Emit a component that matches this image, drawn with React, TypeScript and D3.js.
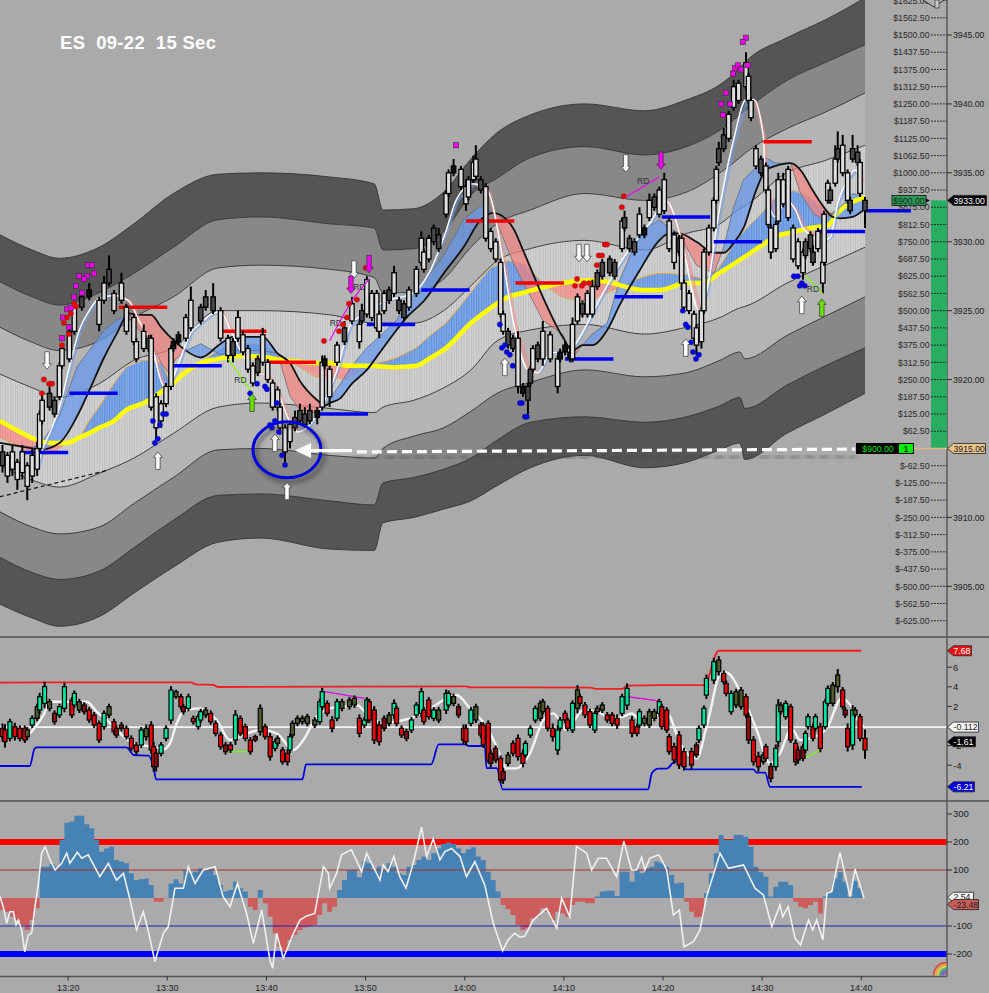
import * as d3 from "d3";

// ---- price candles (bar number = one 15 sec bar) ----
const barIndex = [1,3,5,7,9,11,13,15,16,17,20,22,24,25,28,30,33,36,40,42,44,46,49,51,54,55,58,60,61,63,65,67,69,70,72,75,77,81,83,86,89,92,94,96,98,100,102,104,106,108,110,112,113,115,117,119,121,123,125,128,130,131,133,136,139,142,145,146,148,150,152,153,155,157,159,161,163,165,168,170,171,173,175,177,180,181,183,186,188,189,191,192,194,196,198,200,202,203,205,207,209,211,213,214,215,217,219,222,225,226,228,230,231,233,235,237,239,241,243,246,248,251,252,254,256,258,260,262,264,266,268,270,272,274,275,276,278,280,281,283,284,286,288,289,290,292,294,296,298,301,302,303,305,307,309,310,311,313,314,316,318,320,322,324,325,327,328,330,332,332.5,334,335,337,338,340,342,343,344,346,347,349];
const bodyHigh = [3914.75,3914.5,3914.75,3914,3914.75,3913.75,3914.5,3915,3917.5,3918.5,3919,3918.5,3921,3922.25,3923.5,3925.25,3926,3926.5,3925.75,3927,3928,3926.25,3927,3925.25,3924.5,3922.75,3923.5,3923,3923,3918.75,3918.25,3919.5,3922.25,3922.75,3923.25,3924.5,3925.75,3925.25,3926,3926,3925,3923,3922.75,3924.5,3923.25,3922.25,3921,3921.5,3923.25,3921.25,3919.75,3919.25,3918,3916.5,3916.75,3917.25,3917.75,3917.5,3917.75,3917.75,3921.25,3921.5,3920.75,3922.5,3923.75,3925.5,3924,3925,3927.25,3926.25,3926.25,3924.75,3926.25,3926.5,3927.75,3925.75,3925.5,3926.5,3928,3930.25,3929.25,3930.25,3931,3930.5,3933.5,3935,3935.5,3935.25,3934,3934.5,3935.75,3936,3934.5,3934,3930.75,3930,3928.5,3924.75,3923.5,3923,3923,3919.5,3919.5,3920.75,3922.25,3922.5,3923.5,3923.25,3921.5,3922,3922.5,3922,3924,3926,3925.5,3926.25,3926.75,3927.75,3928.5,3928.75,3928.5,3931.5,3931.75,3930.25,3930,3932,3931,3933,3933.25,3933.75,3934.5,3931.5,3930.5,3930.25,3930.25,3927,3926.25,3924.75,3923.75,3925,3929.25,3931,3933,3935.25,3936.75,3937.75,3939.25,3941.25,3941.5,3943,3942,3940.25,3936.75,3936,3935.5,3933.75,3931,3931.25,3934.5,3934.5,3935.25,3931,3930,3929.25,3930,3930.5,3929.25,3930.75,3928.5,3932,3934.25,3933.75,3936,3936.75,3937,3935,3933,3936.75,3936.5,3935.75,3933];
const bodyLow = [3913.75,3913,3913.5,3912.75,3913.25,3912.25,3913,3913.5,3915,3917,3918,3917.5,3918.75,3921,3921.5,3923.5,3925.25,3926,3924,3925.75,3927,3925,3925.75,3923.5,3922.75,3921.5,3922.25,3922.25,3918,3916.5,3917,3918.25,3919.5,3922.25,3922.75,3923,3923.75,3924.25,3925.25,3925,3923,3921.75,3921.75,3923,3922,3920.75,3919.75,3920.5,3921.25,3920,3918,3918,3916.5,3914.75,3915.5,3916.5,3917,3916.75,3917,3917.25,3918,3921,3918.75,3921.25,3922.75,3924.25,3922.75,3924.25,3924.75,3924.5,3923.75,3923.5,3925,3925.75,3926.25,3925,3924.5,3925.25,3926.25,3928.5,3928,3928.75,3930,3929.5,3932,3933.5,3935,3934,3932.75,3933.25,3934.5,3934.75,3933.75,3930.25,3929.5,3928.75,3924.75,3923.5,3922.5,3922.25,3919.5,3919,3918.5,3919.75,3920.75,3921.5,3921.5,3921.5,3919.5,3921.5,3922,3921.5,3921.5,3924.25,3924.75,3924.75,3924.75,3926.75,3927.5,3927.75,3927.5,3929.5,3931,3929.5,3929.25,3930.5,3930.5,3931.75,3932.5,3932,3932.25,3929.5,3928.5,3929.25,3927,3925.25,3925,3923,3922.5,3922.75,3925,3929.25,3931,3933,3935.75,3936.75,3937.5,3939.75,3940.25,3941.25,3940.25,3939,3935.5,3935,3933.75,3931.25,3929.25,3929.5,3931.5,3932.75,3931.75,3928.75,3928.25,3927.75,3929,3929.5,3928.5,3929.5,3927,3928.5,3933,3933,3934.25,3936,3935,3933,3932.25,3936,3935.75,3933.5,3932.25];
const wickUp = [.5,.25,.5,.25,.5,.25,.5,.5,.25,.5,.5,.25,.25,.25,.5,.25,.5,.5,.25,.5,1,.25,.75,.25,.25,.25,.5,.25,.25,.25,.25,.25,.25,.25,.25,.25,1,.25,.5,1,.25,.25,.25,.5,.25,.25,.25,.25,.5,.25,.25,.25,.25,.25,.25,.5,.5,.5,.5,.25,.5,.25,.25,.25,.5,.5,.25,.5,.25,.25,.25,.25,.25,.25,.5,.25,.25,.25,.25,.5,.25,.25,.25,.5,.25,.25,.5,.25,.5,.25,.5,1,.25,.25,.25,.25,.25,.25,.25,.25,.5,.25,.25,.25,.25,.25,.75,.25,.25,.25,.25,.5,.5,.25,.25,.25,.5,.25,.25,.25,.25,.25,.5,.25,.25,.5,.25,.5,.25,.25,.5,.25,.25,.25,.25,.25,.25,.25,.25,.25,.25,.25,.25,.25,.5,.5,.25,.5,.25,.75,.25,.25,.25,.25,.25,.25,.25,.25,.5,.5,.25,.25,.25,.25,.25,.25,.5,.25,.5,.25,.25,.25,1,1.25,.75,.25,.25,1,.5,.25,.25];
const wickDown = [.5,.5,.5,.75,.5,1,.5,.5,.25,.25,.25,.25,.25,.25,.25,.25,.25,.25,.5,.25,.25,.25,.25,.25,.25,.25,.25,.25,.25,1,.5,.25,.25,.25,.25,.25,.25,.25,.25,.25,.25,.5,.5,.25,.25,.25,.25,.25,.25,.25,.25,.25,.5,1,.5,.25,.25,.25,.25,.5,.25,.25,.75,.25,.25,.25,.5,.25,.25,.25,.25,.5,.25,.25,.25,.25,.25,.25,.25,.25,.25,.25,.25,.25,.25,.25,.25,.25,.5,.25,.25,.25,.25,.25,.25,.25,.25,.25,.25,.25,.5,.25,1,.25,.25,.25,.5,.25,.5,.25,.25,.25,.25,.25,.25,.25,.25,.25,.25,.25,.25,.25,.25,.25,.25,.25,.25,.25,.25,.25,.25,.25,.5,.25,.5,.25,.25,.25,.75,.5,.25,.25,.25,.25,.25,.25,.25,.25,.25,.25,.25,.25,.25,.25,.25,.25,.5,.25,.25,.25,.25,.25,.25,.5,.25,.25,.25,.25,.75,.25,.25,.25,.25,.25,.25,.25,.25,.25,.25,.25,1.25];

// ---- envelope bands, outer to inner ----
const bandBars = [0,13,24,40,54,70,88,105,133,151,154.5,167,179,190,200.5,214,236,260,277,290.5,298.5,300.5,317.5,333,349];
const bandTop1 = [3930.5,3929.4,3928.8,3929.6,3931.3,3933.5,3934.9,3935,3934.7,3934.2,3932.3,3932.4,3933.6,3936,3937.9,3939.2,3940,3939.5,3940.3,3941.4,3942.6,3943,3944.8,3946.1,3947.7];
const bandTop2 = [3927.1,3926,3925.4,3926.3,3927.7,3929.6,3931.6,3931.8,3931.3,3931,3929.4,3929.5,3930.7,3933.4,3934.6,3936.1,3936.9,3936.3,3936.9,3938.1,3939.2,3939.5,3941.7,3943,3944.3];
const bandTop3 = [3923.8,3922.7,3922.1,3922.8,3924.5,3926,3928.1,3928.3,3928,3927.4,3926.3,3926.3,3927.3,3929.6,3931.3,3932.3,3933.5,3933,3933.6,3935,3936.1,3936.4,3938.2,3939.4,3940.8];
const bandTop4 = [3920.4,3919.4,3918.7,3919.7,3921.4,3922.3,3925,3925,3924.7,3924.1,3924.1,3924.1,3925,3926.8,3928.6,3929.5,3930.1,3929.4,3930.6,3931.3,3932.4,3932.6,3935,3935.9,3937];
const bandLow1 = [3913.8,3912.7,3912.2,3913.2,3914.3,3916.1,3918,3918.3,3917.9,3917.6,3918,3918.5,3919.4,3920.7,3922.8,3923.6,3924,3923.3,3923.8,3924.5,3925.2,3925.3,3927,3928.3,3929.6];
const bandLow2 = [3910.4,3909.3,3908.8,3909.3,3911,3912.9,3914.9,3915,3914.5,3914.3,3915,3915.9,3916.5,3917.7,3919,3919.8,3920.7,3920.2,3920.5,3921.4,3922,3921.5,3923.2,3924.6,3926];
const bandLow3 = [3907.1,3906,3905.5,3906.1,3907.8,3909.8,3911.6,3911.7,3911.2,3910.9,3912.5,3912.9,3913.5,3914.3,3915.6,3916.9,3917.3,3916.9,3917.3,3918.1,3918.7,3917.9,3919.6,3921,3922.3];
const bandLow4 = [3903.7,3902.7,3902.1,3902.8,3904.5,3906.4,3908.2,3908.5,3907.7,3907.6,3909.6,3910,3910.6,3911.2,3912.3,3913.6,3914.5,3913.6,3914,3914.9,3915.4,3914.2,3916.1,3917.5,3919];

// ---- yellow average and its thin companion ----
const avgBars = [0,8,15,21,27,32,36,40,46,51,58,65,69,74,81,88,94,102,108,114,121,128,133,140,146,149,159,168,173,180,190,198,205,211,219,227,237,245,251,259,266,277,284,290,297,307,313,320,327,334,338,344,349];
const yellowAvg = [3917,3916.2,3915.6,3915.4,3915.4,3915.8,3916.1,3916.5,3917,3917.8,3918.3,3919.1,3919.6,3920.4,3921.2,3921.5,3921.7,3921.7,3921.6,3921.4,3921.3,3921.2,3921.2,3921,3921,3921,3920.9,3921,3921.5,3922.3,3924.1,3925.2,3926,3926.3,3926.7,3927,3927.2,3927.1,3926.8,3926.5,3926.5,3927,3927,3927.7,3928.5,3929.7,3930.4,3930.7,3931,3931.2,3932.1,3932.9,3933.2];
const orangeAvg = [3915.8,3915.1,3914.5,3914.7,3915.4,3915.8,3917,3918,3919.7,3920.9,3921.4,3921.2,3919.7,3920.4,3921.2,3922.1,3922.6,3922.6,3922.3,3921.6,3920.9,3920.2,3920.2,3920,3920.7,3921,3921.5,3922.3,3923.1,3924.1,3926.3,3928.1,3928.6,3928.4,3927,3926,3925.7,3926.3,3926.8,3927.4,3927.7,3927.6,3927.3,3928.1,3930.1,3932,3933.2,3933.7,3933.2,3932.1,3932.1,3932.9,3933.2];

// ---- black average and the edge of its ribbon ----
const slowBars = [0,13,16,24,31,36,42,47,52,56,61,65,68,71,75,81,89,94,106,112,117,121,128,131,133,137,142,148,153,160,164,171,179,187,194,199,207,211,219,227,231,235,239,245,250,258,266,270,274,281,288,292,296,300,305,309,313,319,323,328,332,336,339,344,349];
const blackAvg = [3915.4,3915,3914.9,3915.4,3917.3,3919.2,3921.6,3923.3,3924.8,3924.7,3924.7,3923.8,3923.2,3922.7,3922.1,3921.6,3922.6,3923.1,3923.1,3921.9,3921.2,3919.9,3918.5,3918.1,3918.3,3918.6,3919.7,3920.7,3921.9,3923.6,3924.5,3925.7,3927.7,3929.6,3931.6,3932.1,3931,3929.4,3926,3923.1,3922.1,3922.5,3922.5,3923.6,3925.4,3927.9,3930.1,3930.6,3930.6,3930,3929.2,3929.2,3929.9,3931,3933.7,3935.2,3935.5,3935.7,3935.2,3933.7,3932.6,3931.8,3931.7,3931.8,3932.4];
const ribbonEdge = [3915.4,3915.1,3915.2,3917.4,3920.9,3922.1,3923.6,3924.3,3924.8,3923.6,3922.8,3921.2,3920.5,3921.5,3922.1,3922.6,3921.8,3922.1,3922.1,3921.9,3918.8,3917.8,3917.6,3918.1,3918.6,3919.6,3921,3922.3,3923.1,3924.3,3925.5,3927,3929,3931.6,3932.6,3932.1,3928.5,3927.1,3924.3,3923.3,3921.6,3922.5,3923.3,3924.1,3927.2,3930.6,3931.6,3931,3930.6,3928.3,3927.7,3929.6,3932.5,3934.5,3935.4,3936.1,3935.7,3935.7,3933.5,3932.1,3931.6,3932.1,3932.5,3933.5,3933.2];
const ribbonDownRanges = [[0, 13], [52, 75], [112, 131], [199, 235], [274, 292], [319, 336]];

// ---- thin white fast average ----
const fastBars = [15,17,20,24,28,32,36,40,46,52,56,61,65,67,70,74,77,81,86,89,93,97,102,108,112,116,120,125,129,136,141,146,156,167,173,180,184,191,197,203,207,213,217,222,230,233,241,250,262,269,275,282,285,290,296,301,304,308,309,313,317,321,324,332,335,338,342,345,348];
const fastAvg = [3913.6,3914.9,3916.1,3918,3920.9,3923.6,3925,3925.9,3926.1,3925.7,3924.3,3922.6,3919.9,3919.2,3920.2,3922.1,3923.4,3924.1,3924.8,3924.9,3923.6,3922.1,3920.7,3920.2,3919.2,3917.3,3916.2,3916.7,3917.8,3920.7,3923.8,3924.7,3925.7,3926.3,3927.7,3930.8,3933,3934.2,3933.6,3928.6,3924.3,3920.7,3920.5,3921.9,3922.1,3922.8,3925.5,3928.4,3931.3,3932.9,3930.1,3925,3926.3,3932.1,3937.4,3940.3,3940.3,3937.6,3933.7,3931.8,3933,3932.3,3931,3930.1,3930.3,3932.8,3934.5,3935.2,3934.3];

// ---- level bars ----
const blueLevelBars = [8,28,70,129,148,170,228,248,267,288,330,349];
const blueLevels = [3914.7,3919,3921,3917.5,3924,3926.5,3921.5,3926,3931.8,3930,3930.75,3932.25];
const redLevelBars = [48,88,108,188,208,308];
const redLevels = [3925.25,3923.5,3921.25,3931.5,3927,3937.25];

// ---- signal markers ----
const squareBars = [35.5,37.1,37.9,31.9,35.1,33.9,30.7,29.9,33.1,27,28.6,25.4,27.8,25,184,300.9,299.7,292.9,290.9,294.5,291.7,295.7,296.5,297.7,298.9,301.7];
const squarePrices = [3928.3,3928.3,3927.7,3927.5,3927.5,3927.3,3926.8,3926,3926.3,3925.1,3925.2,3924.5,3923.8,3923,3937,3944.8,3944.5,3940.8,3940,3940,3939.2,3942.2,3942.6,3942.8,3942.5,3942.8];
const redDotBars = [29.9,30.7,28.6,27,25.8,27.8,25,17.7,19.8,21,16.9,130.7,147.6,144,140.8,140,138.4,136.8,251.7,250.9,244,244.9,241.6,242.9,240.8,232.8,235.6,237.6,232,234.8];
const redDotPrices = [3925.5,3925.3,3924.8,3924.5,3924.1,3923.3,3922.5,3920,3919.7,3919.7,3919,3922.8,3928.1,3925.8,3925.5,3924.5,3924,3923.5,3933.3,3932.5,3929.8,3929.8,3929,3929,3928.3,3927.3,3927,3927,3926.8,3926.8];
const blueDotBars = [61.7,64.5,65.8,67,63.7,62.5,103.7,100.9,106.9,107.7,111.7,108.9,109.7,110.9,112.5,113.8,115,201.7,203.7,202.5,204.5,205.7,206.9,209.8,210.6,211.8,212.6,275.5,276.7,277.5,278.8,279.6,282,280.8,320.3,321.9,322.7,323.5,324.7];
const blueDotPrices = [3917,3916.7,3917.5,3917.5,3915.7,3915.4,3919.7,3919,3919.5,3919.3,3918.3,3916.7,3916.5,3917,3916.2,3914.5,3913.8,3924,3922.5,3922.3,3922,3921.8,3921,3918.3,3918.3,3917.3,3917.3,3925,3924,3923.8,3922.7,3922,3921.8,3921.5,3927.5,3927.5,3926.8,3927,3926.8];
const whiteUpBars = [63.7,110.9,115.8,203.7,276.7,323.5];
const whiteUpPrices = [3914.1,3915.4,3911.9,3920.9,3922.3,3925.4];
const whiteDownBars = [19,142.8,233.6,236.8,252.5];
const whiteDownPrices = [3921.4,3928,3929.2,3929.2,3935.7];
const magentaDownBars = [148.9,141.6,266.7];
const magentaDownPrices = [3928.4,3926.9,3935.9];
const greenUpBars = [101.7,331.6];
const greenUpPrices = [3918.3,3925.2];
const rdBars = [135.5, 145, 259.5, 97, 328];
const rdPrices = [3924.1, 3926.7, 3934.4, 3920, 3926.6];
const magentaTrend1Bars = [133, 138, 142, 149];
const magentaTrend1 = [3922.8, 3924.5, 3925.7, 3927.3];
const magentaTrend2Bars = [253, 266];
const magentaTrend2 = [3933.3, 3934.7];
const greenTrend1Bars = [92, 102];
const greenTrend1 = [3921.5, 3919];
const greenTrend2Bars = [325, 332];
const greenTrend2 = [3927.5, 3926.25];
const dashTrendBars = [0, 43];
const dashTrend = [3911.5, 3913.4];

// ---- momentum pane candles ----
const oscBars = [
  1,2,4,6,8,10,11,13,15,16,18,20,22,24,26,29,30,32,34,36,38,40,42,44,46,47,49,51,53,55,57,59,61,62,63,65,67,69,71,73,74,76,78,80,81,83,85,87,89,91,93,95,97,99,101,103,105,107,109,111,112,114,116,117,118,120,122,124,127,129,130,132,
  134,136,138,141,143,145,147,148,149,151,153,155,157,159,160,162,164,166,168,170,171,173,175,177,180,181,183,185,187,188,190,192,194,195,197,198,200,202,203,205,207,209,211,212,214,216,218,219,221,223,225,226,228,229,231,233,234,236,238,240,241,243,245,247,249,251,253,255,257,258,260,262,264,266,
  267,269,270,272,274,276,279,281,282,284,285,288,290,292,293,295,297,299,301,302,304,306,308,309,311,313,314,315,317,319,321,322,324,325,326,328,329,331,333,334,336,338,340,341,342,344,345,347,349,
];
const oscTop = [
  -.24,-.41,.44,-.07,-.24,-.24,-.41,.78,1.97,2.99,4.01,2.48,1.29,1.97,4.01,2.65,3.33,2.48,2.14,1.63,1.12,.27,1.29,1.97,.44,-.24,.1,-.24,-1.26,-1.94,-.41,-.24,.1,-2.11,-2.79,-1.94,-.24,3.67,3.5,2.99,1.97,2.99,.78,.95,1.46,1.63,1.29,.27,-.92,-1.94,-1.94,1.12,.78,-.07,-1.43,-1.09,1.8,-.07,-1.09,-1.6,-1.26,-2.45,-2.79,-1.09,.27,.78,.78,.95,.61,2.48,3.5,2.31,
  .61,2.48,2.48,2.65,2.82,.78,.61,2.65,2.48,1.63,.1,.78,1.12,2.31,1.8,-.24,-.58,.61,2.14,3.5,1.63,2.65,1.63,1.63,3.33,3.33,2.99,1.97,-.24,-.24,1.63,1.97,.1,.1,.27,-2.79,-2.28,-3.3,-4.66,-2.96,-1.77,-1.26,-2.79,-1.77,-.24,1.8,2.31,2.48,1.8,-.24,-.41,.61,1.29,.61,2.31,3.67,2.99,2.14,1.46,1.29,1.8,2.14,1.12,1.12,.78,2.99,3.84,.61,-.07,1.46,.78,1.46,1.46,2.48,
  1.97,1.63,-1.09,-2.11,-.92,-2.62,-2.62,-1.94,-.24,1.8,4.86,6.56,6.73,5.37,4.35,3.33,3.5,3.67,2.99,.95,-1.43,-3.13,-2.96,-2.11,-4.15,-2.28,2.14,2.14,2.31,1.97,-1.77,-2.45,-2.11,-.75,.95,-.07,.95,-.07,2.48,3.84,4.18,5.2,3.67,1.63,-.24,1.63,1.63,.95,-1.26,
];
const oscBottom = [
  -1.09,-1.6,-1.26,-1.09,-1.26,-1.43,-1.09,.1,.78,1.63,2.31,1.8,.44,1.12,1.8,1.12,2.14,1.63,1.46,.61,.1,-1.43,-.07,1.12,-.58,-.92,-.24,-1.09,-2.28,-2.62,-1.94,-1.09,-2.45,-4.15,-4.15,-2.79,-1.26,.61,2.99,1.97,1.46,1.8,.44,-.07,.61,1.12,.44,-.75,-2.11,-2.62,-2.45,-1.43,-.75,-1.26,-2.62,-1.43,-.58,-1.09,-3.13,-2.28,-1.77,-3.64,-3.64,-2.45,-.92,.27,.44,.27,.1,.44,1.97,1.29,
  -.24,.78,1.8,1.97,2.14,-.75,.1,.61,.61,-1.43,-1.6,-.24,.27,1.12,.27,-.92,-1.26,-.41,1.12,1.29,.44,.95,.78,.61,1.63,2.14,2.31,1.12,-1.43,-1.6,.27,.61,-.92,-1.94,-3.47,-3.81,-3.47,-5.51,-5.51,-3.81,-2.79,-3.13,-3.81,-2.96,-.92,.61,.78,1.46,-.24,-1.09,-2.45,-.24,.61,-.24,-.41,1.8,2.31,1.12,.1,-.41,1.46,1.63,.61,.27,.1,1.29,2.14,-.75,-.75,.1,.27,.1,.78,1.29,
  -.07,-.41,-2.62,-3.47,-3.98,-4.15,-3.98,-2.96,-1.43,.1,3.16,4.69,5.54,4.52,3.33,1.46,2.14,1.97,1.12,-1.43,-3.64,-4.15,-3.64,-3.3,-5.34,-4.15,-1.6,1.46,.95,-1.43,-3.64,-3.47,-3.3,-2.45,-.07,-1.26,-.24,-2.28,-.07,2.31,2.31,4.01,1.97,1.12,-2.11,-1.94,1.12,-1.26,-2.45,
];
const oscKinds =
  "rrgrrrogog" + "godggrgodr" + "rrgorddrrr" + "gorrdgggor" + "dgrggorrrd" + "rgrrrdorrg" + "orrgooooog" + "gr" +
  "rgooorggrr" + "rdogrrdggg" + "rrgoggodrr" + "gorrrddrdo" + "rrrgggoorr" + "ggrrgorrrg" + "oorrrggrrg" + "ooog" +
  "rrrrrrrdgg" + "ggorrgoord" + "rrordggogr" + "rddggrgrgg" + "oordrgorr";
const oscWick = [
  .5,.6,.3,.4,.3,.3,.3,.3,.3,.4,.5,.3,.3,.3,.4,.3,.3,.3,.3,.3,.3,.3,.3,.3,.3,.3,.3,.3,.3,.3,.3,.4,.4,.5,.5,.3,.3,.4,.2,.3,.3,.3,.3,.3,.3,.3,.3,.3,.3,.3,.3,.5,.3,.3,.3,.2,.4,.3,.4,.3,.3,.3,.4,.3,.3,.3,.3,.3,.3,.3,.4,.3,
  .4,.3,.3,.3,.3,.4,.3,.3,.3,.4,.4,.3,.3,.4,.3,.3,.3,.3,.3,.4,.3,.3,.3,.3,.4,.3,.3,.3,.4,.4,.3,.3,.3,.3,.3,.4,.3,.3,.4,.3,.3,.4,.4,.3,.3,.3,.3,.3,.3,.5,.5,.3,.3,.3,.3,.5,.3,.3,.3,.3,.3,.3,.3,.3,.4,.3,.5,.4,.3,.3,.3,.3,.3,.3,
  .3,.3,.3,.4,.4,.4,.4,.3,.3,.3,.4,.4,.4,.3,.3,.3,.3,.3,.3,.4,.4,.5,.3,.3,.4,.4,.6,.3,.3,.3,.4,.4,.3,.3,.3,.3,.3,.4,.3,.3,.3,.6,.3,.3,.5,.5,.3,.3,.9,
];
const oscKindColors: Record<string, string> = { g: "#00E5A0", r: "#F00000", o: "#4E5B2B", d: "#8B0A0A" };

const oscSlowBars = [0,8,12,14.8,17.5,20.2,27,35,39,43,53.8,56.5,61.9,65.9,68.6,71.3,74.6,80.7,87.4,92.8,96.8,104.9,111.6,118.4,122.4,127.8,133,138.5,143.9,147.9,154.6,162.7,165.4,173.5,184.2,189.6,196.3,200.4,204.4,208.4,213.8,219.2,223.2,228.6,235.3,240.7,247.4,251.5,254.8,259.5,266,267.6,270.3,274.4,281.1,285.1,291.2,293.9,299.9,305.3,310.7,314.7,319.4,322.8,328.8,333.6,339.6,343.6,347,348.6];
const oscSlow = [-.3,-1.1,-.75,.1,1.1,2.48,2.48,2.48,1.46,.61,-1.77,-1.94,-2.11,-2.38,-1.77,.27,1.63,1.8,.61,-1.43,-1.09,-.41,-.75,-2.45,-1.43,.95,1.8,1.97,2.14,1.29,.27,.61,.78,1.8,3.16,1.8,-.07,-2.11,-4.32,-4.32,-2.79,.61,1.29,-.41,1.63,1.46,.78,.95,1.29,.27,1.29,1.63,.95,-1.77,-3.3,-.07,5.54,5.37,2.82,-.41,-3.81,-2.79,-.24,-1.43,-1.09,-.24,2.82,1.97,.27,-.07];
const oscUpperBars = [0,17,77,79,86,88,188,190,238,241,251,253,266,284,290,347.5];
const oscUpper = [4.42,4.45,4.45,4.25,4.2,3.98,4.05,3.95,3.92,3.78,3.78,4.12,4.18,4.18,7.68,7.68];
const oscLowerBars = [0,12,14,15,51,54,60,62,63,122,123.5,174,177,188,189,195.6,196.3,200.4,202.8,261.5,263,265.6,269,272.3,274,277,304,305.3,308.7,310.7,347.7];
const oscLower = [-4.08,-4.08,-2.28,-2.18,-2.18,-2.96,-3.03,-4.3,-5.44,-5.44,-3.91,-3.91,-1.87,-1.87,-2.04,-2.04,-4.29,-4.29,-6.46,-6.46,-4.83,-4.35,-4.35,-3.64,-3.74,-4.42,-4.42,-4.76,-4.76,-6.21,-6.21];
const oscTrends = [
  { color: "#E000E0", bars: [131, 147], values: [3.5, 2.82] },
  { color: "#E000E0", bars: [253, 266], values: [2.99, 2.55] },
  { color: "#7CFC00", bars: [91.5, 100], values: [-2.62, -2.62] },
  { color: "#7CFC00", bars: [323.5, 331], values: [-3.4, -2.45] },
];

// ---- CCI pane, histogram holds one value per two bars ----
const cciHist = [-43,-49,-67,-79,-96,-114,-79,-37,112,112,121,112,207,269,273,294,294,263,249,207,165,177,183,136,130,124,88,64,67,70,46,-13,-13,-1,52,67,52,100,88,94,106,100,106,82,46,23,29,58,35,23,-31,-43,29,-19,-67,-126,-174,-192,-150,-132,-114,-105,-102,-96,-61,-19,
  -49,-31,29,64,100,100,74,130,124,100,112,100,124,112,88,82,112,118,136,148,136,160,177,193,198,193,177,160,174,181,148,136,94,64,23,-25,-40,-61,-96,-114,-108,-73,-67,-37,-49,-79,-49,-55,-67,-25,-13,-13,-19,-19,5,23,26,26,7,94,94,58,100,88,106,112,130,
  124,112,82,52,55,-13,-49,-69,-67,17,88,160,225,207,207,225,225,219,183,112,92,76,5,40,58,58,46,-13,-31,-37,-25,-13,-55,5,23,70,92,58,5,62,35,-19];
const cciBars = [0,1.3,2.7,4,5.4,6.5,7.4,8.7,10,11.4,12.8,14.1,15.5,16.8,18.2,20.2,22.2,24.9,26.9,28.2,31.2,33,35.6,40.3,43.7,47,49.8,52.5,55.1,57.8,59.9,62.5,65.9,67.9,70.6,74,76,78.7,82,86.8,90,92.8,95.8,99.5,102.2,105.6,108.9,110,111.6,114.3,118.4,121,123.7,127,130.5,132.5,133,135.8,137.8,141.8,145.9,147.9,150.6,153.3,154.6,156.6,158.9,161.3,163.8,166.7,170.1,172.1,174.8,177.5,179.5,182.2,185.6,188.2,191.6,195.6,199,202.8,205,207.7,209.8,211.8,215.1,220.5,224.6,226.6,229.9,232.6,236.7,238.7,241.4,244.7,248.8,251.7,254.8,256.8,258.9,260.2,262.2,265.6,266.3,269,271.7,274.1,276,279.8,282.4,285.1,290.5,293.9,300,304.6,308,311.4,314.7,315.8,318,320.8,323,326.2,327.9,329.5,332,333.6,335.6,338.9,343,345,348.6];
const cciLine = [5,-31,-90,-49,-49,-96,-79,-114,-192,-132,-126,-31,52,160,183,136,100,124,160,124,163,142,154,76,124,64,88,-7,-114,-49,-120,-227,-126,-102,35,35,112,52,100,112,5,-31,52,-55,-162,-43,-221,-251,-126,-215,-126,-79,-64,-55,112,88,35,88,154,172,94,160,112,64,118,94,148,76,35,124,253,148,211,136,166,177,148,76,130,46,-90,-189,-150,-126,-140,-136,-79,-37,-108,-1,-67,184,160,100,142,142,76,203,100,100,145,100,142,154,148,100,-61,-43,-174,-156,-114,5,160,106,118,35,11,-102,-25,-67,-31,-144,-168,-79,-114,-79,-150,17,23,163,5,104,-1];

// ---- axes ----
const dollarTicks = [1625,1562.5,1500,1437.5,1375,1312.5,1250,1187.5,1125,1062.5,1000,937.5,875,812.5,750,687.5,625,562.5,500,437.5,375,312.5,250,187.5,125,62.5,-62.5,-125,-187.5,-250,-312.5,-375,-437.5,-500,-562.5,-625];
const priceTicks = [3945, 3940, 3935, 3930, 3925, 3920, 3910, 3905];
const oscTicks = [6, 4, 2, -2, -4];
const cciTicks = [300, 200, 100, -100, -200];
const timeLabels = ["13:20","13:30","13:40","13:50","14:00","14:10","14:20","14:30","14:40"];
const timeBars = [27.5,67.5,107.5,147.5,187.5,227.5,267.5,307.5,347.5];

const plotRight = 865;
const axisX = 947;
const mainBottom = 637;
const oscBottomY = 801;
const cciBottom = 976.5;
const FONT = "'Liberation Sans', Arial, sans-serif";
const AXIS_SIZE = 8.7;

const xBar = d3.scaleLinear().domain([0, 349]).range([0, plotRight]);
const yPrice = d3.scaleLinear().domain([3905, 3945]).range([586.3, 35]);
const yOsc = d3.scaleLinear().domain([-4, 6]).range([765.2, 667.2]);
const yCci = d3.scaleLinear().domain([-200, 300]).range([954, 814]);

function bandPath(upper: number[], lower: number[]) {
  return d3.area<number>()
    .x((_, i) => xBar(bandBars[i]))
    .y0((_, i) => yPrice(lower[i]))
    .y1((_, i) => yPrice(upper[i]))
    .curve(d3.curveMonotoneX)(upper) as string;
}

function linePath(bars: number[], vals: number[], y: (v: number) => number, curve: d3.CurveFactory = d3.curveLinear) {
  return d3.line<number>().x((_, i) => xBar(bars[i])).y((v) => y(v)).curve(curve)(vals) as string;
}

function Tag({ y, w, fill, text, color = "#fff", stroke = "#222" }: { y: number; w: number; fill: string; text: string; color?: string; stroke?: string }) {
  const x0 = axisX + 0.5;
  const h = 5;
  return (
    <g>
      <path d={`M${x0},${y}L${x0 + 6},${y - h}L${x0 + w},${y - h}L${x0 + w},${y + h}L${x0 + 6},${y + h}Z`} fill={fill} stroke={stroke} strokeWidth={0.8} />
      <text x={x0 + 6} y={y + 3.2} fontSize={8.7} fill={color} fontFamily={FONT}>{text}</text>
    </g>
  );
}

function Arrow({ bar, price, dir, fill }: { bar: number; price: number; dir: "up" | "down"; fill: string }) {
  const cx = xBar(bar);
  const cy = yPrice(price);
  const s = dir === "up" ? 1 : -1;
  const d = `M0,${-9 * s}L${4.4},${-3.5 * s}L${2.2},${-3.5 * s}L${2.2},${8.5 * s}L${-2.2},${8.5 * s}L${-2.2},${-3.5 * s}L${-4.4},${-3.5 * s}Z`;
  return <path d={d} transform={`translate(${cx},${cy})`} fill={fill} stroke="#333" strokeWidth={0.7} />;
}

export default function App() {
  const ribbonIsDown = (bar: number) => ribbonDownRanges.some(([a, b]) => bar >= a && bar < b);
  const dollarToPrice = (d: number) => 3915 + d / 50;
  const histBar = (i: number) => i * 2;

  const histPos = d3.area<number>().x((_, i) => xBar(histBar(i))).y0(yCci(0)).y1((v) => yCci(Math.max(v, 0))).curve(d3.curveStepAfter)(cciHist) as string;
  const histNeg = d3.area<number>().x((_, i) => xBar(histBar(i))).y0(yCci(0)).y1((v) => yCci(Math.min(v, 0))).curve(d3.curveStepAfter)(cciHist) as string;

  return (
    <svg width={989} height={993} viewBox="0 0 989 993" style={{ position: "absolute", left: 0, top: 0, display: "block", background: "#AAAAAA" }}>
      <defs>
        <clipPath id="mainClip"><rect x={0} y={0} width={plotRight} height={mainBottom - 1} /></clipPath>
        <pattern id="hatchGrey" width={xBar(1)} height={4} patternUnits="userSpaceOnUse">
          <rect width={xBar(1)} height={4} fill="#D2D2D2" />
          <rect width={1} height={4} fill="#BEBEBE" />
        </pattern>
        <pattern id="hatchBlue" width={xBar(1)} height={4} patternUnits="userSpaceOnUse">
          <rect width={xBar(1)} height={4} fill="#7FA8E6" />
          <rect width={1} height={4} fill="#5F8FDC" />
        </pattern>
        <pattern id="hatchPink" width={xBar(1)} height={4} patternUnits="userSpaceOnUse">
          <rect width={xBar(1)} height={4} fill="#F0A0A0" />
          <rect width={1} height={4} fill="#E88C8C" />
        </pattern>
        <filter id="soft" x="-20%" y="-100%" width="140%" height="300%"><feGaussianBlur stdDeviation={2} /></filter>
      </defs>

      <g clipPath="url(#mainClip)">
        <path d={bandPath(bandTop1, bandTop2)} fill="#555555" />
        <path d={bandPath(bandTop2, bandTop3)} fill="#888888" />
        <path d={bandPath(bandTop3, bandTop4)} fill="#B4B4B4" />
        <path d={bandPath(bandTop4, bandLow1)} fill="url(#hatchGrey)" />
        <path d={bandPath(bandLow1, bandLow2)} fill="#B4B4B4" />
        <path d={bandPath(bandLow2, bandLow3)} fill="#888888" />
        <path d={bandPath(bandLow3, bandLow4)} fill="#555555" />
        {[bandTop1, bandTop2, bandTop3, bandTop4, bandLow1, bandLow2, bandLow3, bandLow4].map((vals, k) => (
          <path key={k} d={linePath(bandBars, vals, yPrice, d3.curveMonotoneX)} fill="none" stroke="#333" strokeWidth={0.9} />
        ))}

        {/* hatched fill between yellow and orange */}
        {yellowAvg.slice(0, -1).map((_, i) => {
          const up = orangeAvg[i] + orangeAvg[i + 1] >= yellowAvg[i] + yellowAvg[i + 1];
          const pts = [
            [xBar(avgBars[i]), yPrice(yellowAvg[i])],
            [xBar(avgBars[i + 1]), yPrice(yellowAvg[i + 1])],
            [xBar(avgBars[i + 1]), yPrice(orangeAvg[i + 1])],
            [xBar(avgBars[i]), yPrice(orangeAvg[i])],
          ];
          return <polygon key={i} points={pts.map((p) => p.join(",")).join(" ")} fill={up ? "url(#hatchBlue)" : "url(#hatchPink)"} />;
        })}
        <path d={linePath(avgBars, orangeAvg, yPrice, d3.curveMonotoneX)} fill="none" stroke="#E0A040" strokeWidth={0.9} />

        {/* ribbon between the black line and its edge */}
        <g opacity={0.72}>
          {blackAvg.slice(0, -1).map((_, i) => {
            const pts = [
              [xBar(slowBars[i]), yPrice(blackAvg[i])],
              [xBar(slowBars[i + 1]), yPrice(blackAvg[i + 1])],
              [xBar(slowBars[i + 1]), yPrice(ribbonEdge[i + 1])],
              [xBar(slowBars[i]), yPrice(ribbonEdge[i])],
            ];
            const c = ribbonIsDown(slowBars[i]) ? "#F28380" : "#6699EE";
            return <polygon key={i} points={pts.map((p) => p.join(",")).join(" ")} fill={c} stroke={c} strokeWidth={0.4} />;
          })}
        </g>
        <path d={linePath(slowBars, ribbonEdge, yPrice, d3.curveLinear)} fill="none" stroke="#666" strokeWidth={0.7} />

        <path d={linePath(avgBars, yellowAvg, yPrice, d3.curveMonotoneX)} fill="none" stroke="#FFFF00" strokeWidth={4.5} />
        <path d={linePath(slowBars, blackAvg, yPrice, d3.curveMonotoneX)} fill="none" stroke="#111" strokeWidth={1.8} />

        {/* coloured strip under the fast line */}
        {fastAvg.slice(0, -1).map((v, i) => (
          <line key={i} x1={xBar(fastBars[i]) + 1.5} y1={yPrice(v)} x2={xBar(fastBars[i + 1]) + 1.5} y2={yPrice(fastAvg[i + 1])}
            stroke={fastAvg[i + 1] >= v ? "#6F9BE8" : "#F08A88"} strokeWidth={3.2} strokeOpacity={0.55} />
        ))}
        <path d={linePath(fastBars, fastAvg, yPrice, d3.curveMonotoneX)} fill="none" stroke="#FFFFFF" strokeWidth={1.5} />

        {blueLevelBars.map((b, i) => (
          <line key={i} x1={xBar(b)} x2={xBar(b + 19.5)} y1={yPrice(blueLevels[i])} y2={yPrice(blueLevels[i])} stroke="#0000F0" strokeWidth={3.5} />
        ))}
        {redLevelBars.map((b, i) => (
          <line key={i} x1={xBar(b)} x2={xBar(b + 19.5)} y1={yPrice(redLevels[i])} y2={yPrice(redLevels[i])} stroke="#F00000" strokeWidth={3.5} />
        ))}
      </g>

      {/* extend last blue level past the clip */}
      <line x1={xBar(349)} x2={xBar(349) + 46} y1={yPrice(blueLevels[11])} y2={yPrice(blueLevels[11])} stroke="#0000F0" strokeWidth={3.5} />

      {/* price candles */}
      {barIndex.map((b, i) => {
        const x = xBar(b);
        const hi = bodyHigh[i];
        const lo = bodyLow[i];
        const size = hi - lo;
        const fill = size >= 1.25 ? "#DEDEDE" : size >= 0.75 ? "#4A4A4A" : "#111";
        return (
          <g key={i}>
            <line x1={x} x2={x} y1={yPrice(hi + wickUp[i])} y2={yPrice(lo - wickDown[i])} stroke="#000" strokeWidth={2} />
            <rect x={x - 2.2} y={yPrice(hi)} width={4.4} height={Math.max(yPrice(lo) - yPrice(hi), 1)} fill={fill} stroke="#000" strokeWidth={1.3} />
          </g>
        );
      })}

      {/* trend lines */}
      <path d={linePath(dashTrendBars, dashTrend, yPrice)} fill="none" stroke="#111" strokeWidth={1.2} strokeDasharray="4 3" />
      <path d={linePath(magentaTrend1Bars, magentaTrend1, yPrice, d3.curveMonotoneX)} fill="none" stroke="#F000F0" strokeWidth={1.2} />
      <path d={linePath(magentaTrend2Bars, magentaTrend2, yPrice)} fill="none" stroke="#F000F0" strokeWidth={1.2} />
      <path d={linePath(greenTrend1Bars, greenTrend1, yPrice)} fill="none" stroke="#7CFC00" strokeWidth={1.2} />
      <path d={linePath(greenTrend2Bars, greenTrend2, yPrice)} fill="none" stroke="#7CFC00" strokeWidth={1.2} />
      {rdBars.map((b, i) => (
        <text key={i} x={xBar(b)} y={yPrice(rdPrices[i]) + 3} fontSize={8.5} fill="#333" fontFamily={FONT} textAnchor="middle">RD</text>
      ))}

      {/* markers */}
      {squareBars.map((b, i) => (
        <rect key={i} x={xBar(b) - 2.6} y={yPrice(squarePrices[i]) - 2.6} width={5.2} height={5.2} fill="#F000F0" stroke="#333" strokeWidth={0.6} />
      ))}
      {redDotBars.map((b, i) => (
        <circle key={i} cx={xBar(b)} cy={yPrice(redDotPrices[i])} r={2.7} fill="#F00000" stroke="#444" strokeWidth={0.3} />
      ))}
      {blueDotBars.map((b, i) => (
        <circle key={i} cx={xBar(b)} cy={yPrice(blueDotPrices[i])} r={2.7} fill="#0000F0" stroke="#333" strokeWidth={0.3} />
      ))}
      {whiteUpBars.map((b, i) => <Arrow key={i} bar={b} price={whiteUpPrices[i]} dir="up" fill="#fff" />)}
      {whiteDownBars.map((b, i) => <Arrow key={i} bar={b} price={whiteDownPrices[i]} dir="down" fill="#fff" />)}
      {magentaDownBars.map((b, i) => <Arrow key={i} bar={b} price={magentaDownPrices[i]} dir="down" fill="#F000F0" />)}
      {greenUpBars.map((b, i) => <Arrow key={i} bar={b} price={greenUpPrices[i]} dir="up" fill="#66E000" />)}

      {/* circled entry and the long arrow pointing at it */}
      <ellipse cx={xBar(115.8) + 3} cy={yPrice(3914.9) + 4} rx={34} ry={28} fill="none" stroke="#333" strokeOpacity={0.55} strokeWidth={4} filter="url(#soft)" />
      <line x1={xBar(143)} x2={xBar(345)} y1={yPrice(3914.75) + 6} y2={yPrice(3914.75) + 5} stroke="#444" strokeOpacity={0.55} strokeWidth={3} strokeDasharray="10 5" filter="url(#soft)" />
      <ellipse cx={xBar(115.8)} cy={yPrice(3914.9)} rx={34} ry={28} fill="none" stroke="#0000E0" strokeWidth={3} />
      <line x1={xBar(125)} x2={xBar(142)} y1={yPrice(3914.85)} y2={yPrice(3914.85)} stroke="#fff" strokeWidth={3.2} />
      <line x1={xBar(144)} x2={xBar(345)} y1={yPrice(3914.75)} y2={yPrice(3914.95)} stroke="#fff" strokeWidth={3.2} strokeDasharray="10 5" />
      <path d={`M${xBar(119)},${yPrice(3914.85)}L${xBar(125.5)},${yPrice(3914.85) - 7.5}L${xBar(125.5)},${yPrice(3914.85) + 7.5}Z`} fill="#fff" />

      {/* momentum pane */}
      <path d={linePath(oscUpperBars, oscUpper, yOsc, d3.curveMonotoneX)} fill="none" stroke="#F02020" strokeWidth={1.8} />
      <path d={linePath(oscLowerBars, oscLower, yOsc, d3.curveMonotoneX)} fill="none" stroke="#0000E0" strokeWidth={1.8} />
      <line x1={0} x2={axisX} y1={yOsc(-0.112)} y2={yOsc(-0.112)} stroke="#F4F4F4" strokeWidth={1.8} />
      <path d={linePath(oscSlowBars, oscSlow, yOsc, d3.curveMonotoneX)} fill="none" stroke="#F4F4F4" strokeWidth={2.4} />
      {oscTrends.map((t, i) => (
        <path key={i} d={linePath(t.bars, t.values, yOsc)} fill="none" stroke={t.color} strokeWidth={1.3} />
      ))}
      {oscBars.map((b, i) => {
        const x = xBar(b);
        const w = oscWick[i] ?? 0.3;
        return (
          <g key={i}>
            <line x1={x} x2={x} y1={yOsc(oscTop[i] + w)} y2={yOsc(oscBottom[i] - w)} stroke="#000" strokeWidth={2} />
            <rect x={x - 2} y={yOsc(oscTop[i])} width={4} height={yOsc(oscBottom[i]) - yOsc(oscTop[i])}
              fill={oscKindColors[oscKinds[i]] ?? "#F00000"} stroke="#000" strokeWidth={1.2} />
          </g>
        );
      })}

      {/* CCI pane */}
      <line x1={0} x2={axisX} y1={yCci(200)} y2={yCci(200)} stroke="#FF0000" strokeWidth={6} />
      <line x1={0} x2={axisX} y1={yCci(-200)} y2={yCci(-200)} stroke="#0000FF" strokeWidth={6} />
      <path d={histPos} fill="#4682B4" />
      <path d={histNeg} fill="#CD5C5C" />
      <line x1={0} x2={axisX} y1={yCci(100)} y2={yCci(100)} stroke="#A03030" strokeWidth={1} />
      <line x1={0} x2={axisX} y1={yCci(-100)} y2={yCci(-100)} stroke="#2020B0" strokeWidth={1} />
      <path d={linePath(cciBars, cciLine, yCci)} fill="none" stroke="#F0F0F0" strokeWidth={1.6} />

      {/* pane frames */}
      <line x1={0} x2={989} y1={mainBottom} y2={mainBottom} stroke="#222" strokeWidth={1} />
      <line x1={0} x2={989} y1={oscBottomY} y2={oscBottomY} stroke="#222" strokeWidth={1} />
      <line x1={axisX} x2={axisX} y1={0} y2={cciBottom} stroke="#555" strokeWidth={1.4} />
      <line x1={0} x2={axisX} y1={cciBottom} y2={cciBottom} stroke="#555" strokeWidth={1.6} />

      {/* open position bar */}
      <rect x={931} y={yPrice(3933)} width={16} height={yPrice(3915) - yPrice(3933)} fill="#27AE60" />

      {/* dollar scale */}
      {dollarTicks.map((d) => {
        const y = yPrice(dollarToPrice(d));
        return (
          <g key={d}>
            <text x={929.5} y={y + 3.2} textAnchor="end" fontSize={AXIS_SIZE} fill="#2A2A2A" fontFamily={FONT}>
              {d < 0 ? `$-${(-d).toFixed(2)}` : `$${d.toFixed(2)}`}
            </text>
            <line x1={931} x2={axisX} y1={y} y2={y} stroke="#222" strokeWidth={0.9} strokeDasharray="2 1" />
          </g>
        );
      })}
      {priceTicks.map((p) => (
        <g key={p}>
          <line x1={axisX} x2={952} y1={yPrice(p)} y2={yPrice(p)} stroke="#222" strokeWidth={0.9} />
          <text x={953} y={yPrice(p) + 3.2} fontSize={AXIS_SIZE} fill="#222" fontFamily={FONT}>{p.toFixed(2)}</text>
        </g>
      ))}
      {oscTicks.map((v) => (
        <g key={v}>
          <line x1={axisX} x2={952} y1={yOsc(v)} y2={yOsc(v)} stroke="#222" strokeWidth={0.9} />
          <text x={953} y={yOsc(v) + 3.4} fontSize={9.5} fill="#222" fontFamily={FONT}>{v}</text>
        </g>
      ))}
      {cciTicks.map((v) => (
        <g key={v}>
          <line x1={axisX} x2={952} y1={yCci(v)} y2={yCci(v)} stroke="#222" strokeWidth={0.9} />
          <text x={953} y={yCci(v) + 3.4} fontSize={9.5} fill="#222" fontFamily={FONT}>{v}</text>
        </g>
      ))}
      {timeBars.map((b, i) => (
        <g key={i}>
          <line x1={xBar(b)} x2={xBar(b)} y1={cciBottom} y2={cciBottom + 4} stroke="#333" strokeWidth={1} />
          <text x={xBar(b)} y={cciBottom + 14} textAnchor="middle" fontSize={9} fill="#222" fontFamily={FONT}>{timeLabels[i]}</text>
        </g>
      ))}

      {/* right side tags */}
      <rect x={892} y={yPrice(3933) - 5} width={34} height={10} fill="#2E9A5A" stroke="#111" strokeWidth={0.8} />
      <text x={909} y={yPrice(3933) + 3.2} textAnchor="middle" fontSize={AXIS_SIZE} fill="#0E2A16" fontFamily={FONT}>$900.00</text>
      <path d={`M926,${yPrice(3933) - 2}L930,${yPrice(3933)}L926,${yPrice(3933) + 2}Z`} fill="#111" />
      <Tag y={yPrice(3933)} w={39} fill="#000" text="3933.00" />
      <line x1={914} x2={axisX} y1={yPrice(3915)} y2={yPrice(3915)} stroke="#DEB887" strokeWidth={1.4} />
      <rect x={856} y={yPrice(3915) - 5.5} width={58} height={11} fill="#000" />
      <text x={878} y={yPrice(3915) + 3.2} textAnchor="middle" fontSize={AXIS_SIZE} fill="#00E000" fontFamily={FONT}>$900.00</text>
      <rect x={899} y={yPrice(3915) - 4.5} width={14} height={9} fill="#00F000" />
      <text x={906} y={yPrice(3915) + 3.2} textAnchor="middle" fontSize={9} fill="#000" fontFamily={FONT}>1</text>
      <Tag y={yPrice(3915)} w={38} fill="#E8C48A" text="3915.00" color="#222" />

      <Tag y={yOsc(7.68)} w={24} fill="#F01010" text="7.68" />
      <Tag y={yOsc(-0.112)} w={31} fill="#F4F4F4" text="-0.112" color="#222" />
      <Tag y={yOsc(-1.61)} w={28} fill="#000" text="-1.61" />
      <Tag y={yOsc(-6.21)} w={27} fill="#0000E0" text="-6.21" />
      <Tag y={yCci(2.54)} w={26} fill="#F4F4F4" text="2.54" color="#222" />
      <Tag y={yCci(-23.48)} w={31} fill="#CD5C5C" text="-23.48" color="#222" />

      {/* corner icons */}
      <path d="M923,0L934,7L944,0" fill="#B0B0B0" stroke="#222" strokeWidth={0.9} />
      <rect x={935} y={0} width={4} height={8} fill="#C8C8C8" stroke="#333" strokeWidth={0.7} />
      <g fill="none" strokeWidth={1.4}>
        {["#E04040", "#F0A030", "#E8E040", "#40C040", "#4060E0", "#A040C0"].map((c, i) => (
          <path key={c} d={d3.arc()({ innerRadius: 13 - i * 2, outerRadius: 13 - i * 2, startAngle: -Math.PI / 2, endAngle: 0 }) as string}
            transform={`translate(946.5,975.5)`} stroke={c} />
        ))}
      </g>

      <text x={60} y={49} fontSize={18.5} fontWeight="bold" letterSpacing={0.3} fill="#fff" fontFamily={FONT} xmlSpace="preserve">ES  09-22  15 Sec</text>
    </svg>
  );
}
